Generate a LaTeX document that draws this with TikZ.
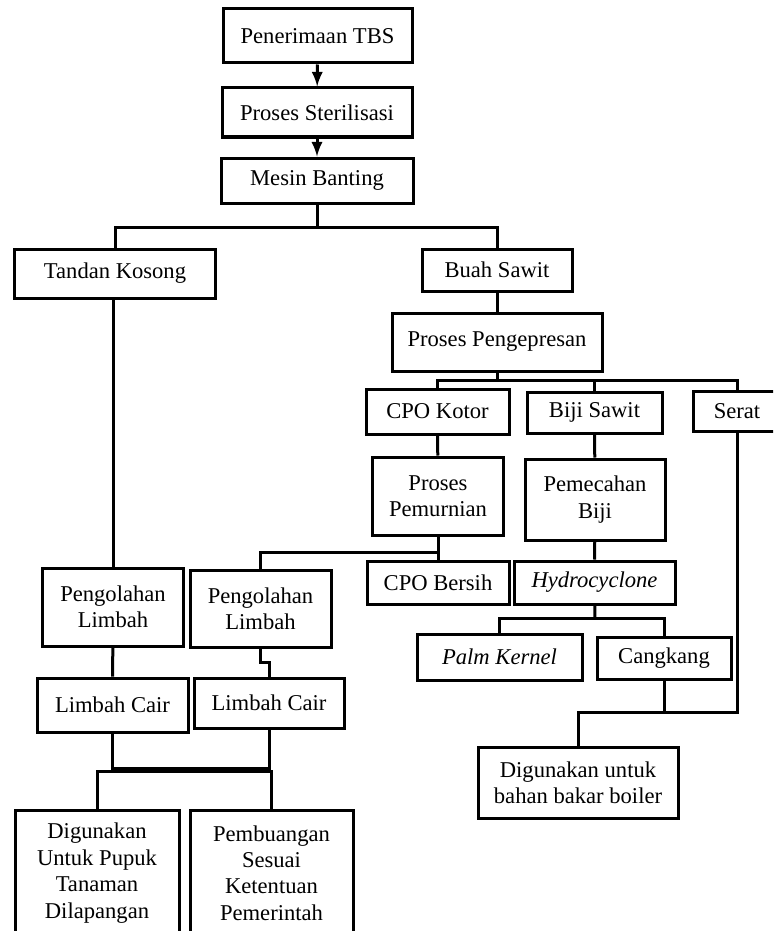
\documentclass[tikz,border=0pt]{standalone}
\usepackage{fontspec}
\setmainfont{Liberation Serif}
\usetikzlibrary{calc,positioning}

\begin{document}
\begin{tikzpicture}[
  >=latex,
  x=0.5pt, y=-0.5pt,        % one unit = one pixel of the page
  box/.style={draw,line width=1.5pt,align=center,inner sep=0pt},
  sz/.style 2 args={minimum width=#1*0.5pt,minimum height=#2*0.5pt},
  link/.style={line width=1.5pt},
  every node/.style={font=\fontsize{11.3}{13.2}\selectfont}
]
\useasboundingbox (0,0) rectangle (773,931);
\clip (0,0) rectangle (773,931);

% --- main line
\node[box,sz={189}{54}] (tbs)     at (317.5,36)   {Penerimaan TBS};
\node[box,sz={190}{49}] (steril)  at (317,112.5)  {Proses Sterilisasi};
\node[box,sz={192}{45}] (banting) at (317,180.5)  {Mesin Banting};

\node[box,sz={201}{49}] (tandan)  at (115,273.5)  {Tandan Kosong};
\node[box,sz={150}{42}] (buah)    at (497,270)    {Buah Sawit};
\node[box,sz={210}{58}] (press)   at (497,342)    {Proses Pengepresan};

% --- hasil pengepresan
\node[box,sz={143}{45}] (kotor)   at (437.5,411.5) {CPO Kotor};
\node[box,sz={135}{41}] (biji)    at (594.5,412.5) {Biji Sawit};
\node[box,sz={88}{40}]  (serat)   at (737,411)     {Serat};

\node[box,sz={131}{78}] (murni)   at (438,496)     {Proses\\Pemurnian};
\node[box,sz={140}{81}] (pecah)   at (595,499.5)   {Pemecahan\\Biji};
\node[box,sz={142}{43}] (bersih)  at (438,582.5)   {CPO Bersih};
\node[box,sz={161}{43}] (hydro)   at (594.5,582.5) {\textit{Hydrocyclone}};
\node[box,sz={165}{46}] (kernel)  at (499.5,657)   {\textit{Palm Kernel}};
\node[box,sz={134}{42}] (cangkang) at (664,658)    {Cangkang};
\node[box,sz={200}{71}] (boiler)  at (578,782.5)   {Digunakan untuk\\bahan bakar boiler};

% --- limbah
\node[box,sz={141}{78}] (pl1)     at (113,607)     {Pengolahan\\Limbah};
\node[box,sz={141}{77}] (pl2)     at (260.5,608.5) {Pengolahan\\Limbah};
\node[box,sz={151}{54}] (lc1)     at (112.5,705)   {Limbah Cair};
\node[box,sz={150}{50}] (lc2)     at (269,703)     {Limbah Cair};
\node[box,sz={164}{126}] (pupuk)  at (97,873)      {Digunakan\\Untuk Pupuk\\Tanaman\\Dilapangan};
\node[box,sz={163}{126}] (buang)  at (271.5,873)   {Pembuangan\\Sesuai\\Ketentuan\\Pemerintah};

% --- split points
\coordinate (split1) at (317,227.5);
\coordinate (split2) at (497,380);
\coordinate (split3) at (438,552.5);
\coordinate (split4) at (595,618);
\coordinate (split5) at (664,712.5);
\coordinate (jog)    at (260.5,662);
\coordinate (join1)  at (191,768);
\coordinate (join2)  at (185,771);

% ===== connectors
\draw[link,->] (tbs) -- (steril);
\draw[link,->] (steril) -- (banting);

\draw[link] (banting) -- (split1);
\draw[link] (tandan) |- (split1) -| (buah);
\draw[link] (buah) -- (press);
\draw[link] (pl1 |- tandan.south) -- (pl1);

\draw[link] (press) -- (split2);
\draw[link] (kotor) |- (split2) -| (serat);
\draw[link] (biji) -- (biji |- split2);

\draw[link] (kotor) -- (murni);
\draw[link] (biji) -- (pecah);
\draw[link] (murni) -- (bersih);
\draw[link] (pl2) |- (split3);
\draw[link] (pecah) -- (hydro);

\draw[link] (hydro) -- (split4);
\draw[link] (kernel) |- (split4) -| (cangkang);

\draw[link] (cangkang) -- (split5) -| (boiler);
\draw[link] (serat) |- (split5);

\draw[link] (pl1) -- (lc1);
\draw[link] (pl2) -- (jog) -| (lc2);
\draw[link] (lc1) |- (join1) -| (lc2);
\draw[link] (pupuk) |- (join2) -| (buang);

\end{tikzpicture}
\end{document}
